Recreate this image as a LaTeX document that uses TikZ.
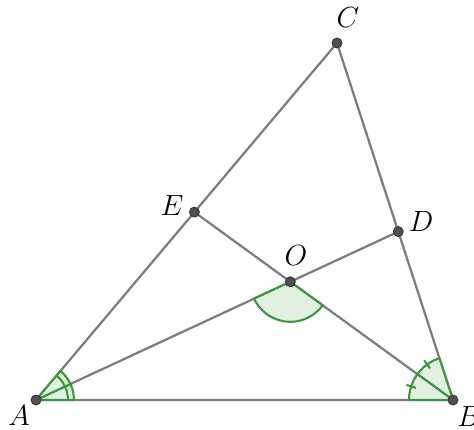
\documentclass[tikz,border=0pt]{standalone}

\definecolor{seggray}{RGB}{125,125,125}
\definecolor{anggreen}{RGB}{60,150,60}
\definecolor{angfill}{RGB}{226,240,226}
\definecolor{ptgray}{RGB}{80,80,80}

\begin{document}
\begin{tikzpicture}[x=0.025cm,y=0.025cm]
  \tikzstyle{seg}=[draw=seggray,line width=1.6pt]
  \tikzstyle{ang}=[draw=anggreen,fill=angfill,line width=1.5pt,line join=round]
  \tikzstyle{arcmark}=[draw=anggreen,line width=1.5pt]
  \tikzstyle{pt}=[fill=ptgray,draw=black!80,line width=0.6pt]
  \tikzstyle{lab}=[font=\huge,inner sep=0pt]
  \useasboundingbox (0,0) rectangle (474,429);
  \coordinate (A) at (36,29);
  \coordinate (B) at (453,29);
  \coordinate (C) at (337,386);
  \coordinate (D) at (398.3,197.4);
  \coordinate (E) at (194.4,216.9);
  \coordinate (O) at (intersection of A--D and B--E);
  % triangle and bisectors
  \path [seg] (A) -- (B) -- (C) -- cycle ;
  \path [seg] (A) -- (D) ;
  \path [seg] (B) -- (E) ;
  % angle at A
  \path [ang] (A) -- ++(0:38) arc[start angle=0,end angle=24.94,radius=38] -- cycle ;
  \path [ang] (A) -- ++(24.94:38) arc[start angle=24.94,end angle=49.87,radius=38] -- cycle ;
  \path [arcmark] (A) ++(0:32) arc[start angle=0,end angle=49.87,radius=32] ;
  % angle at B
  \path [ang] (B) -- ++(108:44) arc[start angle=108,end angle=144,radius=44] -- cycle ;
  \path [ang] (B) -- ++(144:44) arc[start angle=144,end angle=180,radius=44] -- cycle ;
  \path [arcmark] (B) ++(126:39) -- ++(126:10) ;
  \path [arcmark] (B) ++(162:39) -- ++(162:10) ;
  % angle AOB
  \path [ang] (O) -- ++(204.94:40) arc[start angle=204.94,end angle=324,radius=40] -- cycle ;
  % points
  \foreach \p in {A,B,C,D,E,O}
    \path [pt] (\p) circle[radius=5] ;
  % labels
  \node [lab] (labA) at (19,13) {$A$} ;
  \node [lab] (labB) at (469,12) {$B$} ;
  \node [lab] (labC) at (348,411) {$C$} ;
  \node [lab] (labD) at (421,207.5) {$D$} ;
  \node [lab] (labE) at (172,223.5) {$E$} ;
  \node [lab] (labO) at (296,173) {$O$} ;
\end{tikzpicture}
\end{document}
